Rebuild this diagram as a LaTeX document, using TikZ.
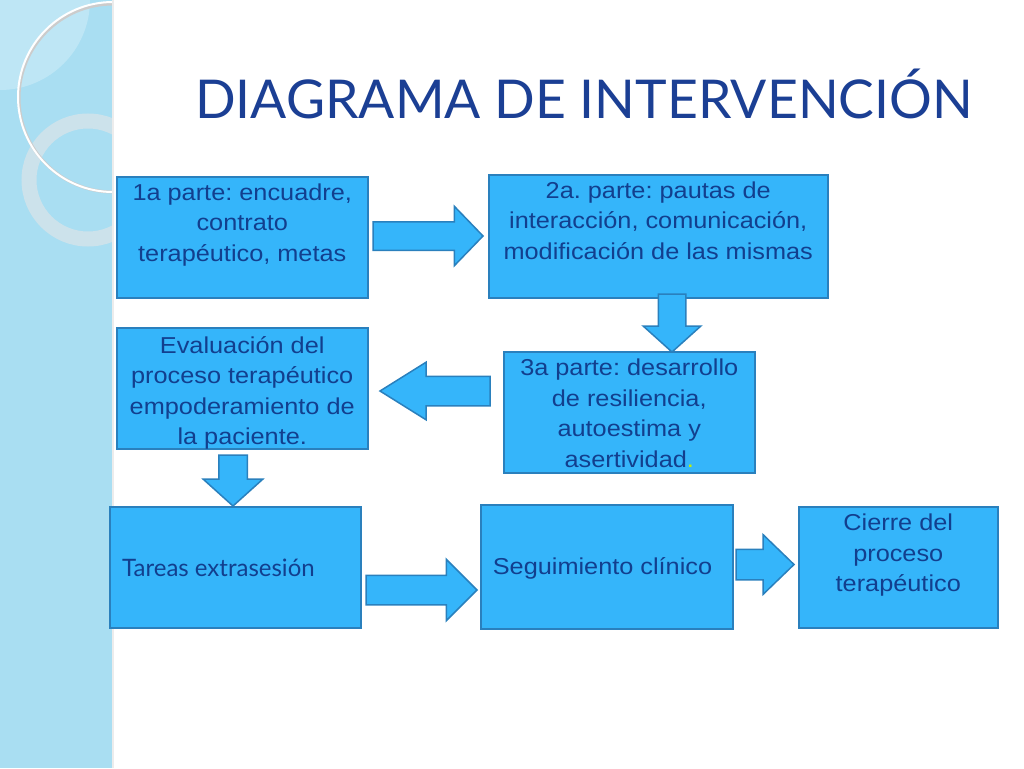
\documentclass[tikz,border=0pt]{standalone}
\usepackage{fontspec}
\setmainfont{Liberation Sans}[FakeStretch=1.1]
\newfontfamily\gillfont{Lato}
\frenchspacing
\usetikzlibrary{shapes.arrows}
\definecolor{boxfill}{HTML}{35B5FA}
\definecolor{boxline}{HTML}{2A80BD}
\definecolor{txtblue}{HTML}{123F8E}
\definecolor{titleblue}{HTML}{1B3F94}
\definecolor{bandblue}{HTML}{A9DEF2}
\definecolor{ringgray}{HTML}{D3E3EA}
\definecolor{dotgreen}{HTML}{C8F000}
\begin{document}
\begin{tikzpicture}[x=1pt,y=-1pt]
    \tikzstyle{box}=[draw=boxline,fill=boxfill,line width=1.5pt,anchor=north west,inner sep=0pt]
    \tikzstyle{txt}=[text=txtblue,align=center,anchor=north,inner sep=0pt,font=\fontsize{23}{30.5}\selectfont]
    \tikzstyle{flow}=[single arrow,draw=boxline,fill=boxfill,line width=1.5pt,outer sep=0pt,anchor=tip,single arrow head indent=0pt]
    \tikzstyle{flowv}=[flow,inner ysep=0pt,shape border rotate=270]
    \tikzstyle{flowh}=[flow,inner xsep=0pt]

    \useasboundingbox (0,0) rectangle (1024,768);
    \fill[white] (0,0) rectangle (1024,768);

    % side band
    \fill[bandblue] (0,0) rectangle (112,768);
    \begin{scope}
        \clip (0,0) rectangle (112,768);
        \fill[white,opacity=0.25] (0,0) circle (90);
        \draw[line width=15pt,ringgray,opacity=0.85] (88,180) circle (59);
        \draw[line width=3pt,gray!40] (113,98) circle (94);
        \draw[line width=2pt,white] (113,97) circle (95);
    \end{scope}
    \draw[line width=2pt,white!85!gray] (113,0) -- (113,768);

    \node[font=\gillfont\fontsize{53.5}{54}\selectfont,text=titleblue,anchor=base west,inner sep=0pt] (title) at (195,118) {DIAGRAMA DE INTERVENCIÓN};

    \node[box,minimum width=251pt,minimum height=121pt] (b1) at (116,176) {};
    \node[box,minimum width=339pt,minimum height=123pt] (b2) at (488,174) {};
    \node[box,minimum width=251pt,minimum height=121pt] (b3) at (503,351) {};
    \node[box,minimum width=251pt,minimum height=121pt] (b4) at (116,327) {};
    \node[box,minimum width=251pt,minimum height=121pt] (b5) at (109,506) {};
    \node[box,minimum width=252pt,minimum height=124pt] (b6) at (480,504) {};
    \node[box,minimum width=199pt,minimum height=121pt] (b7) at (798,506) {};

    \node[txt] (t1) at ([yshift=-7.2pt]b1.north) {1a parte: encuadre,\\contrato\\terapéutico, metas};
    \node[txt] (t2) at ([yshift=-7.2pt]b2.north) {2a. parte: pautas de\\interacción, comunicación,\\modificación de las mismas};
    \node[txt] (t3) at ([yshift=-8pt]b3.north) {3a parte: desarrollo\\de resiliencia,\\autoestima y\\asertividad{\color{dotgreen}.}};
    \node[txt] (t4) at ([yshift=-9pt]b4.north) {Evaluación del\\proceso terapéutico\\empoderamiento de\\la paciente.};
    \node[txt,anchor=base west,font=\gillfont\fontsize{24}{28}\selectfont] (t5) at (122,576) {Tareas extrasesión};
    \node[txt,anchor=base] (t6) at (602.5,574) {Seguimiento clínico};
    \node[txt] (t7) at ([yshift=-8pt]b7.north) {Cierre del\\proceso\\terapéutico};

    \node[flowh,minimum height=110pt,inner ysep=13.5pt,single arrow head extend=15.5pt,single arrow tip angle=92] (a12) at (483,236) {};
    \node[flowv,minimum height=58pt,inner xsep=13pt,single arrow head extend=15pt,single arrow tip angle=96] (a23) at (672,352) {};
    \node[flowh,minimum height=110pt,inner ysep=14pt,single arrow head extend=14pt,single arrow tip angle=64,shape border rotate=180] (a34) at (380,391) {};
    \node[flowv,minimum height=51pt,inner xsep=13.5pt,single arrow head extend=15.5pt,single arrow tip angle=96] (a45) at (233,506) {};
    \node[flowh,minimum height=111pt,inner ysep=14pt,single arrow head extend=16pt,single arrow tip angle=90] (a56) at (477,590) {};
    \node[flowh,minimum height=58pt,inner ysep=14.5pt,single arrow head extend=14.5pt,single arrow tip angle=88] (a67) at (794,564.5) {};
\end{tikzpicture}
\end{document}
